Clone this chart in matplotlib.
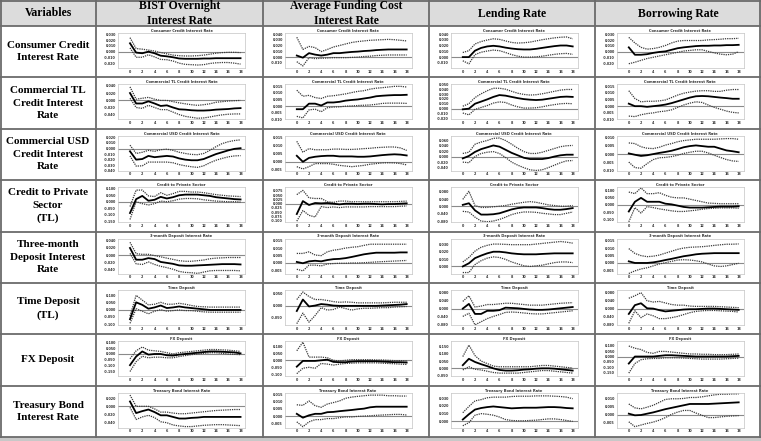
import matplotlib
matplotlib.use("Agg")
import matplotlib.pyplot as plt
from matplotlib.patches import Rectangle
from matplotlib.lines import Line2D
from matplotlib.ticker import MultipleLocator, FormatStrFormatter

# horizon (months) of the impulse responses
horizon = list(range(19))

shocks = ["BIST Overnight\nInterest Rate", "Average Funding Cost\nInterest Rate",
          "Lending Rate", "Borrowing Rate"]
variables = ["Consumer Credit\nInterest Rate", "Commercial TL\nCredit Interest\nRate",
             "Commercial USD\nCredit Interest\nRate", "Credit to Private\nSector\n(TL)",
             "Three-month\nDeposit Interest\nRate", "Time Deposit\n(TL)", "FX Deposit",
             "Treasury Bond\nInterest Rate"]
panel_titles = ["Consumer Credit Interest Rate", "Commercial TL Credit Interest Rate",
                "Commercial USD Credit Interest Rate", "Credit to Private Sector",
                "3-month Deposit Interest Rate", "Time Deposit", "FX Deposit",
                "Treasury Bond Interest Rate"]

# each panel: [response, lower band, upper band]
consumer_bist = [
    [0.0144, -0.0016, -0.0027, 0.0, -0.0027, -0.0069, -0.008, -0.0096, -0.0117, -0.0122, -0.0122, -0.0122, -0.0117, -0.0117, -0.0112, -0.0112, -0.0112, -0.0112, -0.0112],
    [0.0064, -0.0096, -0.0096, -0.0053, -0.009, -0.0133, -0.0138, -0.016, -0.0197, -0.0218, -0.0223, -0.0229, -0.0223, -0.0202, -0.0191, -0.0186, -0.0186, -0.0197, -0.0213],
    [0.024, 0.0053, 0.0043, 0.0027, 0.0011, -0.0016, -0.0037, -0.0059, -0.0069, -0.0074, -0.0074, -0.0069, -0.0059, -0.0043, -0.0027, -0.0016, -0.0011, -0.0011, -0.0016]]
consumer_afc = [
    [0.0027, -0.001, 0.0069, 0.0043, 0.0027, 0.0043, 0.0069, 0.0069, 0.008, 0.009, 0.0096, 0.0106, 0.0112, 0.0122, 0.0128, 0.0133, 0.0133, 0.0133, 0.0133],
    [-0.008, -0.0154, -0.001, -0.0027, -0.0021, -0.0016, -0.001, -0.001, -0.001, -0.0005, 0.0, 0.001, 0.0016, 0.0027, 0.0032, 0.0037, 0.0037, 0.0037, 0.0037],
    [0.0346, 0.0133, 0.0186, 0.0165, 0.0096, 0.0133, 0.0176, 0.0202, 0.0229, 0.0255, 0.0271, 0.0282, 0.0293, 0.0298, 0.0303, 0.0309, 0.0303, 0.0293, 0.0282]]
consumer_lend = [
    [0.0, 0.0, 0.0112, 0.016, 0.0186, 0.0197, 0.0186, 0.0165, 0.0149, 0.0138, 0.0133, 0.0133, 0.0144, 0.016, 0.0176, 0.0191, 0.0202, 0.0202, 0.0186],
    [-0.0064, -0.0117, 0.0043, 0.0085, 0.0106, 0.0122, 0.0112, 0.008, 0.0043, 0.0016, 0.0, 0.0, 0.0005, 0.0016, 0.0032, 0.0048, 0.0059, 0.0064, 0.0048],
    [0.008, 0.0112, 0.0229, 0.0271, 0.0298, 0.0319, 0.0309, 0.0282, 0.0255, 0.0245, 0.025, 0.0261, 0.0282, 0.0303, 0.0319, 0.0335, 0.0346, 0.0351, 0.0319]]
consumer_borr = [
    [0.0074, -0.0053, -0.0053, -0.0043, -0.0021, -0.0005, 0.0005, 0.0032, 0.0059, 0.0074, 0.0085, 0.0096, 0.0101, 0.0101, 0.0106, 0.0106, 0.0112, 0.0112, 0.0117],
    [-0.0207, -0.0181, -0.0149, -0.0117, -0.0096, -0.0074, -0.0053, -0.0032, -0.0011, 0.0011, 0.0021, 0.0032, 0.0032, 0.0005, -0.0021, -0.0043, -0.0053, -0.0043, 0.0],
    [0.0245, 0.0149, 0.0074, 0.0043, 0.0053, 0.0074, 0.0106, 0.0149, 0.0181, 0.0191, 0.0191, 0.0191, 0.0191, 0.0202, 0.0207, 0.0213, 0.0223, 0.0223, 0.0229]]

commtl_bist = [
    [0.0202, -0.0084, -0.0084, -0.0025, -0.0084, -0.0152, -0.0135, -0.0194, -0.0244, -0.0253, -0.027, -0.0278, -0.0278, -0.027, -0.0253, -0.0244, -0.0236, -0.0219, -0.0211],
    [0.0059, -0.0194, -0.0219, -0.0135, -0.0194, -0.0253, -0.0253, -0.032, -0.0388, -0.0438, -0.0463, -0.0489, -0.048, -0.0455, -0.0421, -0.0396, -0.0379, -0.0371, -0.0371],
    [0.0371, 0.0034, 0.0059, 0.0084, 0.0034, 0.0, 0.0, -0.0034, -0.0067, -0.0093, -0.0118, -0.0135, -0.0118, -0.0093, -0.0051, -0.0034, -0.0017, -0.0008, 0.0]]
commtl_afc = [
    [-0.0023, -0.0023, 0.0019, 0.0019, 0.0005, 0.0028, 0.0028, 0.0033, 0.0042, 0.0047, 0.0051, 0.0058, 0.0065, 0.0075, 0.0079, 0.0082, 0.0084, 0.0084, 0.0086],
    [-0.0077, -0.0089, -0.0028, -0.0023, -0.0042, -0.0012, -0.0007, -0.0005, 0.0, 0.0002, 0.0005, 0.0007, 0.0009, 0.0014, 0.0021, 0.0023, 0.0023, 0.0023, 0.0021],
    [0.0121, 0.0075, 0.0082, 0.0065, 0.0058, 0.0075, 0.0079, 0.0086, 0.0093, 0.0103, 0.0112, 0.0117, 0.0129, 0.0136, 0.014, 0.0145, 0.015, 0.015, 0.0145]]
commtl_lend = [
    [-0.0013, 0.0, 0.0102, 0.0146, 0.0191, 0.0242, 0.028, 0.0268, 0.0242, 0.0217, 0.0197, 0.0185, 0.0178, 0.0185, 0.0204, 0.0223, 0.0242, 0.0248, 0.0242],
    [-0.0089, -0.0127, -0.0013, 0.0025, 0.0064, 0.0115, 0.014, 0.0127, 0.0076, 0.0038, 0.0013, 0.0013, 0.0019, 0.0038, 0.0064, 0.0083, 0.0102, 0.0108, 0.0102],
    [0.0051, 0.0102, 0.0229, 0.0306, 0.0369, 0.042, 0.042, 0.0401, 0.0357, 0.0318, 0.0293, 0.028, 0.0287, 0.0306, 0.0331, 0.0357, 0.0382, 0.0395, 0.0395]]
commtl_borr = [
    [0.0019, 0.0, 0.0, -0.0005, 0.0, 0.0005, 0.0012, 0.0023, 0.0037, 0.0051, 0.0065, 0.0075, 0.0077, 0.0075, 0.007, 0.0065, 0.0061, 0.0056, 0.0056],
    [-0.0075, -0.0079, -0.0065, -0.0056, -0.0051, -0.0042, -0.0037, -0.0028, -0.0009, 0.0009, 0.0023, 0.0033, 0.0028, 0.0009, -0.0009, -0.0023, -0.0037, -0.0047, -0.0051],
    [0.0117, 0.0058, 0.0033, 0.0037, 0.0037, 0.004, 0.0047, 0.0065, 0.0084, 0.0098, 0.0107, 0.0114, 0.0117, 0.0117, 0.0112, 0.0112, 0.0121, 0.0126, 0.0126]]

commusd_bist = [
    [-0.005, -0.02, -0.0189, -0.0133, -0.0156, -0.0144, -0.0133, -0.0144, -0.0178, -0.02, -0.0211, -0.0211, -0.0189, -0.0144, -0.01, -0.0067, -0.0033, -0.0006, 0.0006],
    [-0.0133, -0.0317, -0.0311, -0.0244, -0.0244, -0.0244, -0.0244, -0.0256, -0.0289, -0.0311, -0.0328, -0.0339, -0.0311, -0.0256, -0.0211, -0.0178, -0.015, -0.0133, -0.0128],
    [0.0061, -0.0089, -0.0067, -0.0033, -0.005, -0.0022, -0.0011, -0.0033, -0.0067, -0.0089, -0.0106, -0.0111, -0.0089, -0.0033, 0.0033, 0.0089, 0.0122, 0.0144, 0.0156]]
commusd_afc = [
    [0.0037, 0.0, 0.0024, 0.0031, 0.0035, 0.0037, 0.0037, 0.0033, 0.0033, 0.0033, 0.0031, 0.0031, 0.0033, 0.0037, 0.0041, 0.0044, 0.0046, 0.0044, 0.0039],
    [-0.003, -0.0044, -0.003, -0.0011, -0.0011, -0.0011, -0.0015, -0.0022, -0.0026, -0.003, -0.0026, -0.0022, -0.0015, -0.0011, -0.0007, -0.0006, -0.0007, -0.0011, -0.0019],
    [0.0126, 0.0059, 0.0081, 0.0074, 0.0074, 0.0074, 0.0078, 0.0078, 0.0076, 0.0076, 0.0078, 0.0081, 0.0083, 0.0087, 0.0089, 0.0091, 0.0091, 0.0085, 0.007]]
commusd_lend = [
    [-0.0056, 0.0033, 0.0178, 0.0278, 0.0344, 0.0411, 0.0367, 0.0256, 0.0144, 0.0056, -0.0033, -0.0078, -0.0078, -0.0078, -0.0044, 0.0011, 0.0056, 0.0078, 0.0078],
    [-0.0189, -0.0211, 0.0011, 0.0122, 0.0167, 0.0189, 0.0122, -0.0022, -0.0189, -0.03, -0.0389, -0.0467, -0.0489, -0.0467, -0.0389, -0.03, -0.0211, -0.0144, -0.0133],
    [0.0122, 0.0167, 0.0456, 0.0533, 0.0589, 0.0667, 0.0678, 0.0589, 0.0456, 0.0311, 0.0189, 0.0122, 0.0122, 0.0167, 0.0233, 0.03, 0.0367, 0.04, 0.0411]]
commusd_borr = [
    [0.0004, -0.0004, -0.0011, -0.0007, 0.0, 0.0007, 0.0013, 0.002, 0.003, 0.0041, 0.0048, 0.0052, 0.0048, 0.0044, 0.0044, 0.0033, 0.0022, 0.0017, 0.0011],
    [-0.0048, -0.0081, -0.0085, -0.0057, -0.0033, -0.0022, -0.002, -0.0015, -0.0007, 0.0004, 0.0011, 0.0017, 0.0017, 0.0007, -0.0007, -0.002, -0.0033, -0.0041, -0.0044],
    [0.0067, 0.0063, 0.0044, 0.0035, 0.0033, 0.0041, 0.0054, 0.0063, 0.0074, 0.0081, 0.0085, 0.0089, 0.0089, 0.0089, 0.0089, 0.0091, 0.0093, 0.0093, 0.0089]]

credit_bist = [
    [-0.0875, 0.02, 0.045, 0.0075, 0.015, 0.0375, 0.025, 0.035, 0.05, 0.055, 0.055, 0.055, 0.05, 0.045, 0.035, 0.03, 0.025, 0.02, 0.0175],
    [-0.1375, 0.0, -0.015, -0.025, -0.015, 0.005, 0.0, 0.0075, 0.02, 0.025, 0.025, 0.0225, 0.015, 0.01, 0.005, 0.0025, 0.0, 0.0, -0.0025],
    [-0.0375, 0.09, 0.09, 0.045, 0.04, 0.07, 0.05, 0.0625, 0.08, 0.08, 0.075, 0.075, 0.07, 0.0625, 0.055, 0.05, 0.045, 0.0425, 0.04]]
credit_afc = [
    [-0.06, 0.015, -0.0075, 0.0038, 0.0019, 0.0038, 0.0, -0.0038, 0.0, 0.0, -0.0019, 0.0, 0.0, -0.0019, -0.0038, -0.0019, -0.0019, 0.0, 0.0019],
    [-0.1015, -0.0395, -0.0677, -0.0771, -0.0169, -0.0226, -0.0188, -0.0226, -0.0188, -0.0188, -0.0188, -0.0188, -0.0169, -0.0169, -0.0169, -0.0169, -0.0169, -0.015, -0.0132],
    [0.0526, 0.0771, 0.0338, 0.0301, 0.0301, 0.0113, 0.0075, 0.015, 0.015, 0.0113, 0.0113, 0.0113, 0.0113, 0.0113, 0.0113, 0.0113, 0.0113, 0.0132, 0.015]]
credit_lend = [
    [0.0087, 0.0174, -0.0209, -0.0435, -0.0435, -0.0417, -0.0365, -0.0261, -0.0157, -0.0087, -0.0052, -0.0052, -0.0052, -0.0087, -0.0139, -0.0174, -0.0174, -0.0139, -0.0087],
    [-0.0261, -0.0296, -0.0574, -0.0783, -0.0817, -0.0783, -0.0696, -0.0574, -0.0435, -0.0348, -0.0296, -0.0296, -0.0313, -0.0365, -0.04, -0.0435, -0.0435, -0.0365, -0.0296],
    [0.0383, 0.0817, 0.0052, -0.0052, -0.0052, -0.0017, 0.0017, 0.0052, 0.0122, 0.0174, 0.0226, 0.0261, 0.0226, 0.0157, 0.0087, 0.0052, 0.0017, 0.0017, 0.0052]]
credit_borr = [
    [-0.0435, 0.0217, 0.0478, 0.0217, 0.0217, 0.0217, 0.0087, 0.0043, -0.0043, -0.013, -0.0174, -0.0174, -0.0174, -0.0152, -0.013, -0.0109, -0.0109, -0.0109, -0.0087],
    [-0.113, -0.0174, -0.0543, -0.0109, -0.0174, -0.0261, -0.0326, -0.0391, -0.0435, -0.0435, -0.0391, -0.0348, -0.0283, -0.0239, -0.0217, -0.0196, -0.0196, -0.0196, -0.0217],
    [0.087, 0.0761, 0.1152, 0.0761, 0.0761, 0.0826, 0.0652, 0.0522, 0.0478, 0.0478, 0.0391, 0.0304, 0.0217, 0.013, 0.0109, 0.0087, 0.0087, 0.0087, 0.0087]]

depo3m_bist = [
    [0.02, -0.0122, -0.0122, -0.0078, -0.0104, -0.0183, -0.0209, -0.0235, -0.0278, -0.0287, -0.0287, -0.0278, -0.027, -0.0261, -0.0252, -0.0243, -0.0243, -0.0243, -0.0252],
    [0.0052, -0.0235, -0.0252, -0.0183, -0.0252, -0.0304, -0.0339, -0.0383, -0.0443, -0.047, -0.0478, -0.0496, -0.0461, -0.0426, -0.0417, -0.0417, -0.0417, -0.0417, -0.0426],
    [0.0357, 0.0043, 0.0026, 0.0026, -0.0009, -0.0043, -0.0078, -0.0113, -0.0148, -0.0165, -0.0165, -0.0148, -0.013, -0.0096, -0.0078, -0.007, -0.0061, -0.0061, -0.0061]]
depo3m_afc = [
    [0.0007, -0.0002, 0.0011, 0.0015, 0.0011, 0.002, 0.0026, 0.0028, 0.0033, 0.0041, 0.005, 0.0059, 0.0065, 0.007, 0.007, 0.007, 0.007, 0.0072, 0.0072],
    [-0.0043, -0.0054, -0.0015, -0.0015, -0.002, -0.0007, -0.0004, -0.0002, -0.0002, 0.0, 0.0, 0.0002, 0.0004, 0.0007, 0.0009, 0.0011, 0.0013, 0.0015, 0.0017],
    [0.0065, 0.0065, 0.0076, 0.0054, 0.005, 0.0076, 0.0087, 0.0093, 0.0102, 0.0107, 0.0111, 0.012, 0.0128, 0.0128, 0.0128, 0.0128, 0.0128, 0.0128, 0.0128]]
depo3m_lend = [
    [0.0, 0.0043, 0.0113, 0.0148, 0.0178, 0.02, 0.02, 0.0191, 0.0178, 0.017, 0.0165, 0.0165, 0.0165, 0.017, 0.0174, 0.0178, 0.0178, 0.0178, 0.0178],
    [-0.0083, -0.0083, 0.0026, 0.0078, 0.0113, 0.013, 0.0122, 0.0096, 0.0061, 0.0035, 0.0009, 0.0, 0.0009, 0.0017, 0.0035, 0.0052, 0.0061, 0.0061, 0.0052],
    [0.0061, 0.0122, 0.0209, 0.0261, 0.0287, 0.0304, 0.0304, 0.03, 0.0296, 0.0296, 0.0296, 0.0296, 0.0304, 0.0313, 0.0322, 0.033, 0.0339, 0.033, 0.0317]]
depo3m_borr = [
    [0.0011, 0.0, 0.0, 0.0, 0.0004, 0.0011, 0.002, 0.0028, 0.0037, 0.0046, 0.0052, 0.0059, 0.0063, 0.0065, 0.0067, 0.0067, 0.0067, 0.0067, 0.0067],
    [-0.0072, -0.0054, -0.0041, -0.0033, -0.002, -0.0007, 0.0002, 0.0011, 0.002, 0.0022, 0.002, 0.0015, 0.0007, -0.0007, -0.002, -0.0024, -0.002, -0.0011, -0.0002],
    [0.0098, 0.0065, 0.005, 0.0043, 0.0046, 0.0054, 0.0067, 0.008, 0.0093, 0.0102, 0.0107, 0.0109, 0.0111, 0.0115, 0.012, 0.0124, 0.0128, 0.0128, 0.013]]

time_bist = [
    [-0.0652, 0.05, 0.0326, 0.0065, 0.0152, 0.0283, 0.0109, 0.0152, 0.0217, 0.0152, 0.0109, 0.0065, 0.0022, -0.0022, -0.0022, -0.0022, -0.0022, -0.0022, -0.0022],
    [-0.0935, 0.0065, -0.0109, -0.0283, -0.0109, 0.0, -0.0109, -0.0065, -0.0022, -0.0065, -0.0065, -0.0109, -0.0152, -0.0174, -0.0174, -0.0174, -0.0174, -0.0174, -0.0174],
    [-0.0435, 0.0978, 0.0652, 0.0326, 0.037, 0.05, 0.037, 0.037, 0.0435, 0.037, 0.0283, 0.0217, 0.0196, 0.0174, 0.0174, 0.0174, 0.0174, 0.0174, 0.0174]]
time_afc = [
    [-0.0225, 0.025, -0.0037, 0.0, 0.0062, 0.0037, 0.0, -0.0012, -0.0012, -0.0012, -0.0012, -0.0012, -0.0012, -0.0012, 0.0, 0.0012, 0.0025, 0.0037, 0.0062],
    [-0.075, -0.0312, -0.0687, -0.0412, -0.0087, -0.0187, -0.0162, -0.0062, -0.0125, -0.0187, -0.0137, -0.0112, -0.0112, -0.01, -0.0087, -0.0087, -0.0062, -0.005, -0.0037],
    [0.025, 0.0562, 0.0375, 0.025, 0.025, 0.0212, 0.0162, 0.0137, 0.015, 0.0137, 0.0112, 0.0112, 0.0112, 0.0112, 0.0112, 0.0125, 0.0137, 0.0137, 0.0137]]
time_lend = [
    [0.0, 0.0231, -0.0262, -0.0262, -0.0108, -0.0108, -0.0077, 0.0046, 0.0031, 0.0015, -0.0015, -0.0046, -0.0062, -0.0062, -0.0046, -0.0015, 0.0015, 0.0046, 0.0077],
    [-0.0385, -0.0231, -0.08, -0.0646, -0.0492, -0.0385, -0.0292, -0.0185, -0.0169, -0.0185, -0.0215, -0.0246, -0.0262, -0.0262, -0.0231, -0.02, -0.0169, -0.0138, -0.0108],
    [0.0354, 0.0631, 0.0077, 0.0123, 0.02, 0.02, 0.0231, 0.0262, 0.0262, 0.0231, 0.02, 0.0169, 0.0169, 0.0169, 0.02, 0.0231, 0.0262, 0.0277, 0.0292]]
time_borr = [
    [-0.0262, 0.0169, 0.0262, 0.0015, 0.0, -0.0077, -0.0138, -0.0108, -0.0077, -0.0046, -0.0031, -0.0031, -0.0015, 0.0, 0.0, -0.0015, -0.0031, -0.0046, -0.0062],
    [-0.0723, -0.0108, -0.0446, -0.0262, -0.0354, -0.0492, -0.0492, -0.0446, -0.0385, -0.0292, -0.02, -0.0138, -0.0108, -0.0092, -0.0092, -0.0108, -0.0123, -0.0138, -0.0169],
    [0.0508, 0.0631, 0.0785, 0.0385, 0.0323, 0.0354, 0.0277, 0.02, 0.0169, 0.0169, 0.0123, 0.0108, 0.0108, 0.0108, 0.0108, 0.0092, 0.0077, 0.0062, 0.0046]]

fx_bist = [
    [-0.0972, -0.0222, 0.0222, -0.0056, 0.0, 0.0, -0.0111, -0.0139, -0.0056, 0.0, 0.0056, 0.0111, 0.0167, 0.0222, 0.0222, 0.0194, 0.0167, 0.0139, 0.0056],
    [-0.1528, -0.0667, -0.0194, -0.0333, -0.0278, -0.0278, -0.0333, -0.0333, -0.0222, -0.0139, -0.0056, 0.0, 0.0056, 0.0111, 0.0111, 0.0056, 0.0, -0.0028, -0.0056],
    [-0.0417, 0.0278, 0.0611, 0.0333, 0.0278, 0.0222, 0.0111, 0.0, 0.0111, 0.0167, 0.0222, 0.0278, 0.0333, 0.0389, 0.0389, 0.0361, 0.0333, 0.0278, 0.0222]]
fx_afc = [
    [-0.0455, -0.0045, -0.0045, -0.0045, 0.0, 0.0045, -0.0114, -0.0136, -0.0136, -0.0091, -0.0068, -0.0068, -0.0068, -0.0068, -0.0091, -0.0114, -0.0136, -0.0136, -0.0159],
    [-0.0955, -0.0568, -0.05, -0.0568, -0.0227, -0.0273, -0.0341, -0.0273, -0.0227, -0.0205, -0.0182, -0.0182, -0.0182, -0.0182, -0.0205, -0.0227, -0.025, -0.0273, -0.0295],
    [0.0682, 0.1295, 0.0227, 0.0227, 0.0227, 0.0182, 0.0, -0.0045, 0.0, 0.0045, 0.0045, 0.0045, 0.0045, 0.0023, 0.0023, 0.0, -0.0023, -0.0023, -0.0045]]
fx_lend = [
    [0.0217, 0.0652, 0.0435, 0.0283, 0.0152, 0.0, -0.0109, -0.0152, -0.0152, -0.013, -0.0087, -0.0065, -0.0022, 0.0, 0.0, -0.0022, -0.0065, -0.0109, -0.0152],
    [-0.0109, 0.0109, -0.0065, -0.0109, -0.0196, -0.0283, -0.0326, -0.0326, -0.0326, -0.0326, -0.0283, -0.0239, -0.0196, -0.0152, -0.0152, -0.0196, -0.0239, -0.0283, -0.0326],
    [0.0804, 0.1587, 0.087, 0.05, 0.0326, 0.0152, 0.0109, 0.0109, 0.0109, 0.0109, 0.0109, 0.0109, 0.0152, 0.0196, 0.0196, 0.0152, 0.0109, 0.0065, 0.0022]]
fx_borr = [
    [-0.0647, 0.0, 0.0, 0.0, 0.0, 0.0059, 0.0118, 0.0118, 0.0088, 0.0059, 0.0029, 0.0, 0.0, 0.0, 0.0, 0.0, 0.0, 0.0029, 0.0059],
    [-0.1529, -0.0647, -0.0294, -0.0206, -0.0176, -0.0176, -0.0118, -0.0118, -0.0118, -0.0147, -0.0176, -0.0206, -0.0235, -0.0235, -0.0235, -0.0235, -0.0206, -0.0176, -0.0147],
    [0.0971, 0.0765, 0.0647, 0.0382, 0.0294, 0.0471, 0.0471, 0.0412, 0.0353, 0.0294, 0.0235, 0.0235, 0.0206, 0.0206, 0.0176, 0.0176, 0.0176, 0.0206, 0.0235]]

tbond_bist = [
    [0.012, -0.0168, -0.012, -0.008, -0.0144, -0.0224, -0.0224, -0.0264, -0.0304, -0.0304, -0.0288, -0.028, -0.0264, -0.0264, -0.0264, -0.0264, -0.0264, -0.0264, -0.0264],
    [-0.0024, -0.0328, -0.0264, -0.0224, -0.028, -0.0384, -0.0408, -0.0464, -0.0488, -0.0504, -0.0504, -0.0488, -0.0472, -0.0464, -0.0456, -0.0456, -0.0464, -0.0472, -0.048],
    [0.028, 0.0, 0.0, 0.0, -0.0064, -0.0144, -0.0144, -0.0168, -0.0184, -0.0184, -0.0168, -0.0152, -0.0136, -0.012, -0.0104, -0.0096, -0.0088, -0.008, -0.008]]
tbond_afc = [
    [0.0017, -0.0009, 0.0007, 0.0017, 0.0017, 0.0028, 0.003, 0.0035, 0.0039, 0.0043, 0.0048, 0.0052, 0.0061, 0.0065, 0.0065, 0.0065, 0.0065, 0.0065, 0.0065],
    [-0.0037, -0.007, -0.0037, -0.0022, -0.0022, -0.0015, -0.0015, -0.0009, -0.0004, -0.0004, 0.0, 0.0002, 0.0004, 0.0007, 0.0009, 0.0011, 0.0013, 0.0013, 0.0009],
    [0.0078, 0.0074, 0.0104, 0.0072, 0.0061, 0.0083, 0.0093, 0.0104, 0.0122, 0.013, 0.0135, 0.0139, 0.0143, 0.0143, 0.0143, 0.0139, 0.0139, 0.0137, 0.0137]]
tbond_lend = [
    [0.0024, 0.0092, 0.0152, 0.0172, 0.0184, 0.0192, 0.0184, 0.0176, 0.0168, 0.0172, 0.0176, 0.0176, 0.0176, 0.018, 0.0184, 0.0184, 0.018, 0.0172, 0.0168],
    [-0.0056, -0.0016, 0.008, 0.01, 0.0092, 0.008, 0.0056, 0.0024, 0.0012, 0.0008, 0.0008, 0.0012, 0.0016, 0.0024, 0.0032, 0.0032, 0.0024, 0.0012, 0.0],
    [0.0112, 0.0192, 0.0264, 0.028, 0.0304, 0.0312, 0.0312, 0.0312, 0.032, 0.0324, 0.0324, 0.0324, 0.0328, 0.0328, 0.0328, 0.0324, 0.032, 0.0312, 0.0292]]
tbond_borr = [
    [0.0006, -0.0004, -0.0002, 0.0006, 0.0014, 0.0024, 0.0034, 0.0042, 0.005, 0.0058, 0.0066, 0.0066, 0.0066, 0.0066, 0.0068, 0.007, 0.0072, 0.0074, 0.0076],
    [-0.0044, -0.0074, -0.0064, -0.0054, -0.0046, -0.0034, -0.0018, 0.0002, 0.0016, 0.0026, 0.0026, 0.001, -0.0004, -0.0018, -0.0018, -0.0014, -0.001, -0.0008, -0.0006],
    [0.0066, 0.0042, 0.0036, 0.0046, 0.0058, 0.0076, 0.0094, 0.0098, 0.0098, 0.01, 0.0106, 0.0106, 0.011, 0.0116, 0.0122, 0.0126, 0.0126, 0.0128, 0.0128]]

panels = [
    [consumer_bist, consumer_afc, consumer_lend, consumer_borr],
    [commtl_bist, commtl_afc, commtl_lend, commtl_borr],
    [commusd_bist, commusd_afc, commusd_lend, commusd_borr],
    [credit_bist, credit_afc, credit_lend, credit_borr],
    [depo3m_bist, depo3m_afc, depo3m_lend, depo3m_borr],
    [time_bist, time_afc, time_lend, time_borr],
    [fx_bist, fx_afc, fx_lend, fx_borr],
    [tbond_bist, tbond_afc, tbond_lend, tbond_borr],
]

# axis ranges and tick steps of each small chart
ylims = [
    [(-0.028, 0.032), (-0.019, 0.042), (-0.019, 0.042), (-0.028, 0.032)],
    [(-0.052, 0.044), (-0.010, 0.0165), (-0.022, 0.050), (-0.010, 0.0165)],
    [(-0.040, 0.023), (-0.0055, 0.016), (-0.050, 0.076), (-0.010, 0.011)],
    [(-0.158, 0.113), (-0.107, 0.096), (-0.084, 0.104), (-0.115, 0.120)],
    [(-0.050, 0.046), (-0.0072, 0.0167), (-0.0096, 0.038), (-0.0072, 0.0167)],
    [(-0.104, 0.135), (-0.080, 0.065), (-0.080, 0.092), (-0.080, 0.092)],
    [(-0.194, 0.111), (-0.114, 0.136), (-0.054, 0.185), (-0.182, 0.141)],
    [(-0.053, 0.034), (-0.0076, 0.016), (-0.008, 0.037), (-0.008, 0.0136)],
]
ysteps = [
    [0.01, 0.01, 0.01, 0.01],
    [0.02, 0.005, 0.01, 0.005],
    [0.01, 0.005, 0.02, 0.005],
    [0.05, 0.025, 0.04, 0.05],
    [0.02, 0.005, 0.01, 0.005],
    [0.05, 0.05, 0.04, 0.04],
    [0.05, 0.05, 0.05, 0.05],
    [0.02, 0.005, 0.01, 0.005],
]

W, H = 761, 441
fig = plt.figure(figsize=(W / 100, H / 100), dpi=100)
fig.patch.set_facecolor("white")

def fx(x):
    return x / W

def fy(y):
    return 1 - y / H

col_edges = [0, 96, 263, 429, 595, 761]
head_h = 26
row_h = (437 - head_h) / 8
serif = ["Liberation Serif", "DejaVu Serif"]
grid_col = "#6b6b6b"

# header and bottom bands
fig.patches.append(Rectangle((0, fy(head_h)), 1, head_h / H, transform=fig.transFigure,
                             facecolor="#dcdcdc", edgecolor="none", zorder=0))
fig.patches.append(Rectangle((0, 0), 1, (H - 437) / H, transform=fig.transFigure,
                             facecolor="#c8c8c8", edgecolor="none", zorder=0))

# table rules
for k in range(9):
    y = head_h + k * row_h
    fig.lines.append(Line2D([0, 1], [fy(y), fy(y)], transform=fig.transFigure,
                            color=grid_col, lw=1.3))
fig.lines.append(Line2D([0, 1], [fy(0.7), fy(0.7)], transform=fig.transFigure, color=grid_col, lw=1.3))
for x in col_edges:
    xx = min(max(x, 0.7), W - 0.7)
    fig.lines.append(Line2D([fx(xx), fx(xx)], [fy(0), fy(437)], transform=fig.transFigure,
                            color=grid_col, lw=1.3))

# header texts
fig.text(fx(48), fy(13), "Variables", ha="center", va="center", family=serif,
         fontweight="bold", fontsize=8.5)
for c, name in enumerate(shocks):
    cx = (col_edges[c + 1] + col_edges[c + 2]) / 2
    fig.text(fx(cx), fy(13.5), name, ha="center", va="center", family=serif,
             fontweight="bold", fontsize=8.5, linespacing=1.4)

# row labels
for r, name in enumerate(variables):
    cy = head_h + (r + 0.5) * row_h
    fig.text(fx(48), fy(cy), name, ha="center", va="center", family=serif,
             fontweight="bold", fontsize=8, linespacing=1.5)

# small impulse response charts
for r in range(8):
    rt = head_h + r * row_h
    for c in range(4):
        c0, c1 = col_edges[c + 1], col_edges[c + 2]
        cw = c1 - c0
        left = c0 + 0.13 * cw
        right = c0 + 0.895 * cw
        top = rt + 7
        bottom = rt + 42
        ax = fig.add_axes([fx(left), fy(bottom), fx(right - left), (bottom - top) / H])
        mid, lower, upper = panels[r][c]
        ax.axhline(0, color="#8a8a8a", lw=0.8, zorder=1)
        ax.plot(horizon, lower, color="#3a3a3a", lw=0.9, ls=(0, (1, 0.8)), zorder=2)
        ax.plot(horizon, upper, color="#3a3a3a", lw=0.9, ls=(0, (1, 0.8)), zorder=2)
        ax.plot(horizon, mid, color="black", lw=1.3, zorder=3)
        ax.set_xlim(-2, 18.8)
        ax.set_ylim(*ylims[r][c])
        ax.set_xticks(range(0, 19, 2))
        ax.yaxis.set_major_locator(MultipleLocator(ysteps[r][c]))
        ax.yaxis.set_major_formatter(FormatStrFormatter("%.3f"))
        ax.tick_params(length=0, labelsize=2.4, pad=1.2, colors="#333333")
        for lab in ax.get_xticklabels() + ax.get_yticklabels():
            lab.set_fontweight("bold")
        for s in ax.spines.values():
            s.set_color("#c4c4c4")
            s.set_linewidth(0.5)
        ax.set_title(panel_titles[r], fontsize=2.6, pad=0.8, color="#333333", fontweight="bold")

fig.savefig("out.png", dpi=100, facecolor="white")
